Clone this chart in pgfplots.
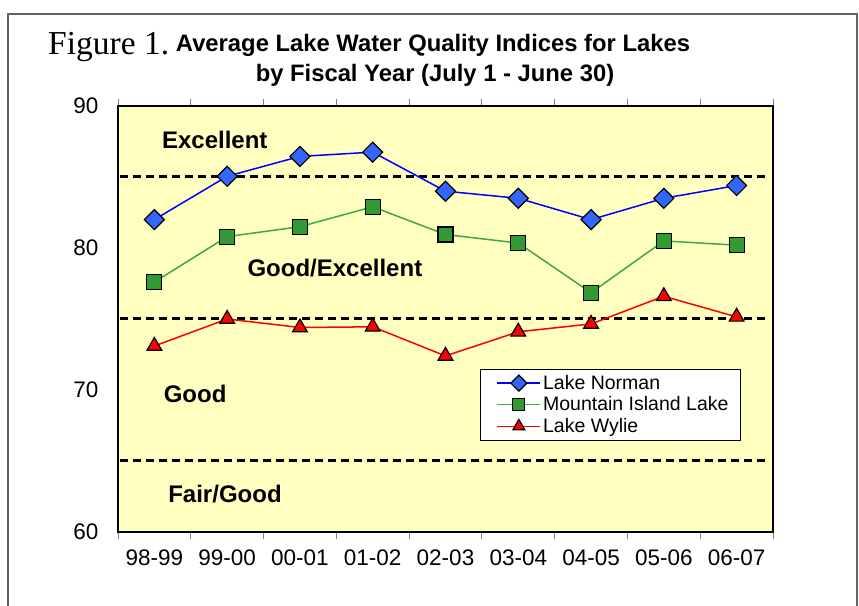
\documentclass[border=0pt]{standalone}
\usepackage{pgfplots}
\pgfplotsset{compat=1.18}
\usepackage{fontspec}
\setmainfont{Liberation Sans}
\newfontfamily\timesfont{Liberation Serif}
\definecolor{bgyellow}{RGB}{255,255,192}
\definecolor{normanfill}{RGB}{51,102,255}
\definecolor{normanline}{RGB}{0,0,255}
\definecolor{mtnfill}{RGB}{51,153,51}
\definecolor{mtnline}{RGB}{60,170,60}
\definecolor{wylie}{RGB}{255,0,0}
\definecolor{framegray}{RGB}{100,100,100}
\begin{document}
\begin{tikzpicture}
\useasboundingbox (0bp,0bp) rectangle (859bp,606bp);
\draw[framegray, line width=2bp] (8bp,-5bp) -- (8bp,592bp) -- (857bp,592bp) -- (857bp,-5bp);
\node[anchor=base west, font=\timesfont\fontsize{33.5bp}{36bp}\selectfont, inner sep=0] at (48bp,551bp) {Figure 1.};
\node[anchor=base, font=\bfseries\fontsize{23.8bp}{26bp}\selectfont, inner sep=0] at (433bp,554bp) {Average Lake Water Quality Indices for Lakes};
\node[anchor=base, font=\bfseries\fontsize{23.8bp}{26bp}\selectfont, inner sep=0] at (435bp,524bp) {by Fiscal Year (July 1 - June 30)};
\coordinate (origin) at (118bp,74bp);
\begin{axis}[
  at={(origin)}, anchor=south west, scale only axis,
  width=655bp, height=426bp,
  xmin=-0.5, xmax=8.5, ymin=60, ymax=90,
  xtick={0,1,2,3,4,5,6,7,8},
  xticklabels={98-99,99-00,00-01,01-02,02-03,03-04,04-05,05-06,06-07},
  minor xtick={-0.5,0.5,1.5,2.5,3.5,4.5,5.5,6.5,7.5,8.5},
  ytick={60,70,80,90},
  major tick length=0pt,
  minor tick length=7bp,
  tick align=outside,
  minor x tick style={draw=gray, line width=1bp},
  axis background/.style={fill=bgyellow},
  axis line style={line width=1.5bp},
  ticklabel style={font=\fontsize{22.5bp}{24bp}\selectfont},
  /pgf/number format/assume math mode=true,
  xticklabel style={yshift=-14bp},
  yticklabel style={xshift=-16bp},
  legend style={at={(0.553,0.383)}, anchor=north west, draw=black, line width=0.8bp, fill=white,
    font=\fontsize{19.5bp}{21bp}\selectfont, inner xsep=10bp, inner ysep=4bp, row sep=2bp},
  legend cell align=left,
  legend image code/.code={\path (-6bp,0bp); \draw[mark repeat=2,mark phase=2, every mark/.append style={scale=0.8}] plot coordinates {(0bp,0bp) (21.5bp,0bp) (43bp,0bp)};},
]
\addplot[black, line width=3bp, dash pattern=on 8bp off 5bp, forget plot] coordinates {(-0.47,85) (8.42,85)};
\addplot[black, line width=3bp, dash pattern=on 8bp off 5bp, forget plot] coordinates {(-0.47,75) (8.42,75)};
\addplot[black, line width=3bp, dash pattern=on 8bp off 5bp, forget plot] coordinates {(-0.47,65) (8.42,65)};

\addplot[normanline, line width=1.5bp, mark=square*, mark size=7.07bp,
  mark options={rotate=45, fill=normanfill, draw=black, line width=1.2bp, solid}]
  coordinates {(0,82.0) (1,85.05) (2,86.45) (3,86.75) (4,84.0) (5,83.5) (6,82.0) (7,83.5) (8,84.4)};
\addlegendentry{Lake Norman}
\addplot[mtnline, line width=1.5bp, mark=square*, mark size=7.5bp,
  mark options={fill=mtnfill, draw=black, line width=1.2bp, solid}]
  coordinates {(0,77.6) (1,80.8) (2,81.5) (3,82.9) (4,80.95) (5,80.35) (6,76.85) (7,80.5) (8,80.2)};
\addlegendentry{Mountain Island Lake}
\addplot[wylie, line width=1.5bp, mark=triangle*, mark size=8.5bp,
  mark options={fill=wylie, draw=black, line width=1.2bp, solid}]
  coordinates {(0,73.1) (1,75.0) (2,74.4) (3,74.45) (4,72.4) (5,74.1) (6,74.65) (7,76.6) (8,75.15)};
\addlegendentry{Lake Wylie}

\node[font=\bfseries\fontsize{24bp}{26bp}\selectfont] at (axis cs:0.83,87.6) {Excellent};
\node[font=\bfseries\fontsize{24bp}{26bp}\selectfont] at (axis cs:2.48,78.6) {Good/Excellent};
\node[font=\bfseries\fontsize{24bp}{26bp}\selectfont] at (axis cs:0.56,69.7) {Good};
\node[font=\bfseries\fontsize{24bp}{26bp}\selectfont] at (axis cs:0.97,62.7) {Fair/Good};
\end{axis}
\end{tikzpicture}
\end{document}
